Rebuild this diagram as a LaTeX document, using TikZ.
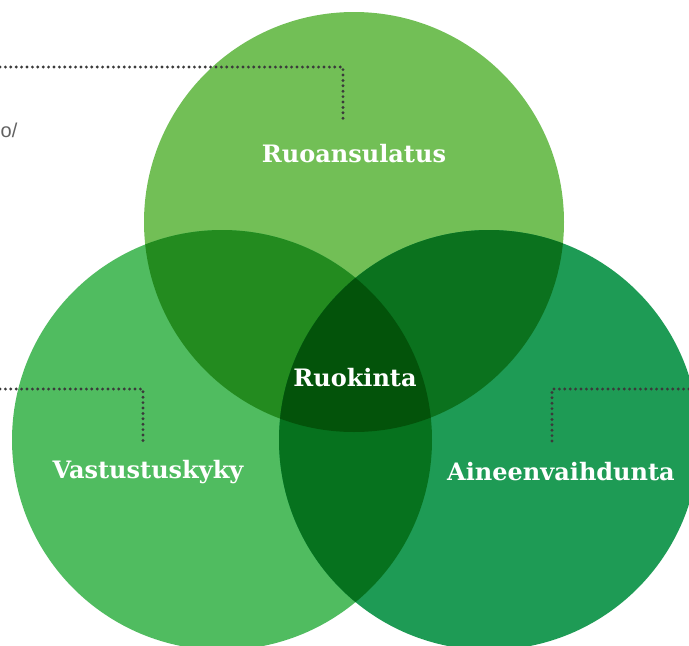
\documentclass[tikz,border=0pt]{standalone}
\usepackage{fontspec}
\newfontfamily\slab{DejaVu Serif}
\newfontfamily\plain{Liberation Sans}
\definecolor{ctop}{HTML}{72BF56}
\definecolor{cleft}{HTML}{50BC60}
\definecolor{cright}{HTML}{1E9B55}
\definecolor{ctl}{HTML}{238B1F}
\definecolor{ctr}{HTML}{0B721E}
\definecolor{clr}{HTML}{06721E}
\definecolor{cmid}{HTML}{03530A}
\definecolor{dotc}{HTML}{3A3A3A}
\begin{document}
\begin{tikzpicture}[x=1pt,y=-1pt,
  lbl/.style={text=white,font=\slab\bfseries\fontsize{24}{28}\selectfont,inner sep=0pt},
  dotline/.style={draw=dotc,line width=3.2pt,line cap=round,dash pattern=on 0pt off 5.4pt}]
\useasboundingbox (0,0) rectangle (689,646);
\begin{scope}
\clip (0,0) rectangle (689,646);
\fill[ctop] (354,222) circle (210);
\fill[cleft] (222,440) circle (210);
\fill[cright] (489,440) circle (210);
\begin{scope}\clip (354,222) circle (210); \fill[ctl] (222,440) circle (210);\end{scope}
\begin{scope}\clip (354,222) circle (210); \fill[ctr] (489,440) circle (210);\end{scope}
\begin{scope}\clip (222,440) circle (210); \fill[clr] (489,440) circle (210);\end{scope}
\begin{scope}\clip (354,222) circle (210); \clip (222,440) circle (210); \fill[cmid] (489,440) circle (210);\end{scope}
\end{scope}
\coordinate (t0) at (0,67); \coordinate (t1) at (343,67); \coordinate (t2) at (343,121);
\coordinate (l0) at (0,389); \coordinate (l1) at (143,389); \coordinate (l2) at (143,443);
\coordinate (r0) at (689,389); \coordinate (r1) at (552,389); \coordinate (r2) at (552,443);
\draw[dotline] (t0) -- (t1) -- (t2);
\draw[dotline] (l0) -- (l1) -- (l2);
\draw[dotline] (r0) -- (r1) -- (r2);
\node[lbl] (top) at (354,154) {Ruoansulatus};
\node[lbl] (left) at (148,472) {Vastustuskyky};
\node[lbl] (right) at (561,472) {Aineenvaihdunta};
\node[lbl] (mid) at (355,378) {Ruokinta};
\node[anchor=west,inner sep=0pt,text=dotc!80,font=\plain\fontsize{20}{24}\selectfont] (frag) at (0.5,130) {o/};
\end{tikzpicture}
\end{document}
